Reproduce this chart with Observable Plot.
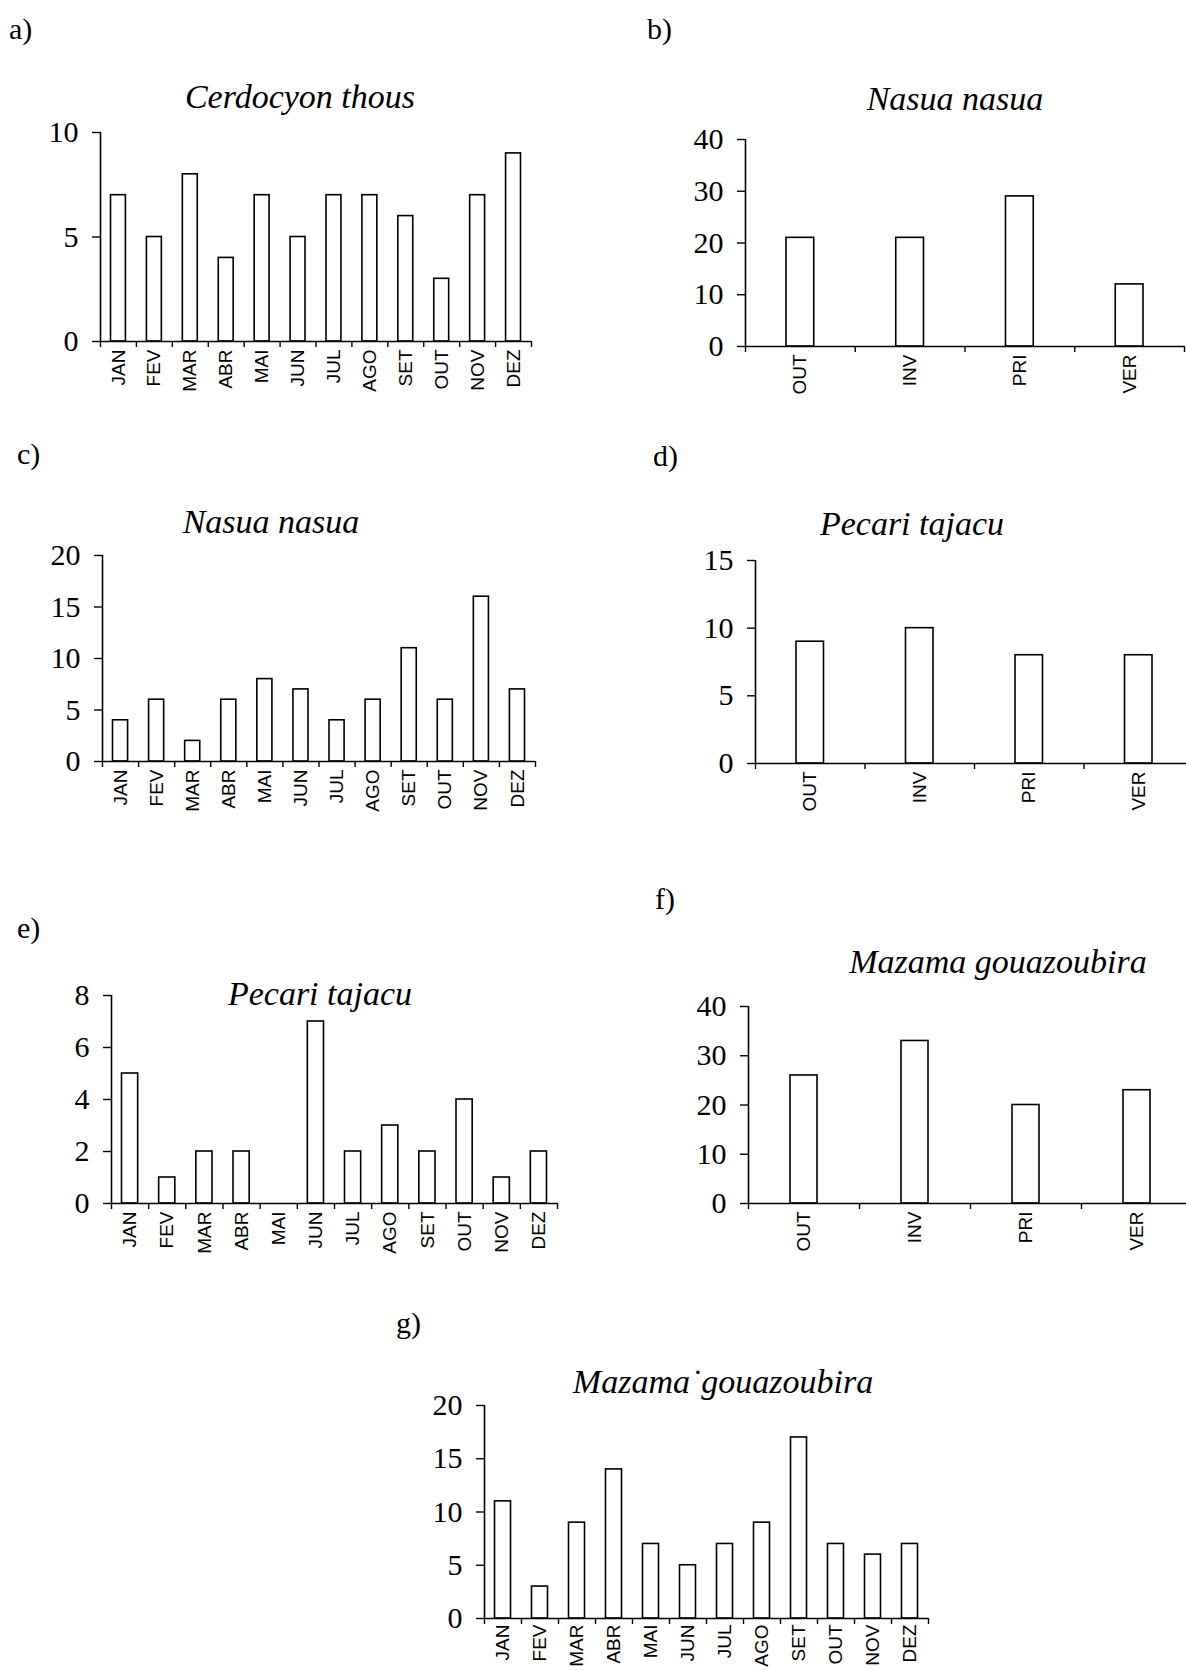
<!DOCTYPE html>
<html><head><meta charset="utf-8">
<script src="https://cdn.jsdelivr.net/npm/d3@7"></script>
<script src="https://cdn.jsdelivr.net/npm/@observablehq/plot@0.6"></script>
<style>
html,body{margin:0;padding:0;background:#fff;overflow:hidden}
#page{position:relative;width:1186px;height:1670px;overflow:hidden;background:#fff;color:#000}
.lbl{position:absolute;font-family:"Liberation Serif",serif;font-size:30px;line-height:30px;white-space:nowrap;color:#000}
.ttl{position:absolute;font-family:"Liberation Serif",serif;font-style:italic;font-size:34px;line-height:34px;white-space:nowrap;transform:translateX(-50%);color:#000}
</style></head><body><div id="page"></div>
<script>
// ---- data ----
const months = ["JAN","FEV","MAR","ABR","MAI","JUN","JUL","AGO","SET","OUT","NOV","DEZ"];
const seasons = ["OUT","INV","PRI","VER"];
const cerdocyonMonthly = [7,5,8,4,7,5,7,7,6,3,7,9];
const nasuaSeasonal = [21,21,29,12];
const nasuaMonthly = [4,6,2,6,8,7,4,6,11,6,16,7];
const pecariSeasonal = [9,10,8,8];
const pecariMonthly = [5,1,2,2,0,7,2,3,2,4,1,2];
const mazamaSeasonal = [26,33,20,23];
const mazamaMonthly = [11,3,9,14,7,5,7,9,17,7,6,7];
const ticks10 = [0,5,10];
const ticks40 = [0,10,20,30,40];
const ticks20 = [0,5,10,15,20];
const ticks15 = [0,5,10,15];
const ticks8 = [0,2,4,6,8];

// ---- layout (positions/styles only) ----
const panels = [
  {letter:"a)", title:"Cerdocyon thous", cats:months, values:cerdocyonMonthly, yTicks:ticks10,
   ax:100, right:531, top:132, zero:341, inset:10.5, lx:9, ly:39, tx:300, ty:108, pad:8},
  {letter:"b)", title:"Nasua nasua", cats:seasons, values:nasuaSeasonal, yTicks:ticks40,
   ax:745, right:1184, top:139, zero:346, inset:41, lx:647, ly:39, tx:955, ty:110, pad:8},
  {letter:"c)", title:"Nasua nasua", cats:months, values:nasuaMonthly, yTicks:ticks20,
   ax:102, right:535, top:555, zero:761, inset:10.5, lx:17, ly:464, tx:271, ty:533, pad:8},
  {letter:"d)", title:"Pecari tajacu", cats:seasons, values:pecariSeasonal, yTicks:ticks15,
   ax:755, right:1193, top:560, zero:763, inset:41, lx:653, ly:466, tx:912, ty:535, pad:8},
  {letter:"e)", title:"Pecari tajacu", cats:months, values:pecariMonthly, yTicks:ticks8,
   ax:111, right:557, top:995, zero:1203, inset:10.5, lx:17, ly:938, tx:320, ty:1005, pad:8},
  {letter:"f)", title:"Mazama gouazoubira", cats:seasons, values:mazamaSeasonal, yTicks:ticks40,
   ax:748, right:1192, top:1006, zero:1203, inset:42, lx:655, ly:909, tx:998, ty:973, pad:8},
  {letter:"g)", title:"Mazama\u02D9gouazoubira", cats:months, values:mazamaMonthly, yTicks:ticks20,
   ax:484, right:928, top:1405, zero:1618, inset:10.5, lx:396, ly:1333, tx:723, ty:1393, pad:6}
];

const page = document.getElementById("page");
const ML = 75, MT = 20, MB = 75, MR = 12;

for (const p of panels) {
  const n = p.cats.length;
  const rows = p.cats.map((c, i) => ({i, c, v: p.values[i]}));
  const ymax = p.yTicks[p.yTicks.length - 1];
  const width = (p.right - p.ax) + ML + MR;
  const height = (p.zero - p.top) + MT + MB;
  const svg = Plot.plot({
    width, height,
    marginLeft: ML, marginRight: MR, marginTop: MT, marginBottom: MB,
    x: {type: "linear", domain: [0, n]},
    y: {domain: [0, ymax]},
    style: {background: "transparent", color: "black", overflow: "visible"},
    marks: [
      Plot.rectY(rows, {x1: d => d.i, x2: d => d.i + 1, y: "v", insetLeft: p.inset, insetRight: p.inset,
        fill: "white", stroke: "black", strokeWidth: 1.6}),
      Plot.ruleX([0], {stroke: "black", strokeWidth: 1.6}),
      Plot.ruleY([0], {stroke: "black", strokeWidth: 1.6}),
      Plot.axisY({ticks: p.yTicks, tickSize: 8, tickPadding: 14, tickFormat: d => String(d),
        fontSize: 30, fontFamily: "Liberation Serif", label: null, strokeWidth: 1.4}),
      Plot.axisX({ticks: d3.range(n + 1), tickSize: 6, tickFormat: () => "", label: null, strokeWidth: 1.4}),
      Plot.axisX({ticks: d3.range(n).map(i => i + 0.5), tickSize: 0, tickPadding: p.pad, tickRotate: -90,
        tickFormat: t => p.cats[Math.floor(t)], fontSize: 19, fontFamily: "Liberation Sans", label: null})
    ]
  });
  svg.style.position = "absolute";
  svg.style.left = (p.ax - ML) + "px";
  svg.style.top = (p.top - MT) + "px";
  page.appendChild(svg);

  const l = document.createElement("div");
  l.className = "lbl";
  l.textContent = p.letter;
  l.style.left = p.lx + "px";
  l.style.top = (p.ly - 0.8375 * 30) + "px";
  page.appendChild(l);

  const t = document.createElement("div");
  t.className = "ttl";
  t.textContent = p.title;
  t.style.left = p.tx + "px";
  t.style.top = (p.ty - 0.8375 * 34) + "px";
  page.appendChild(t);
}
</script>
</body></html>
